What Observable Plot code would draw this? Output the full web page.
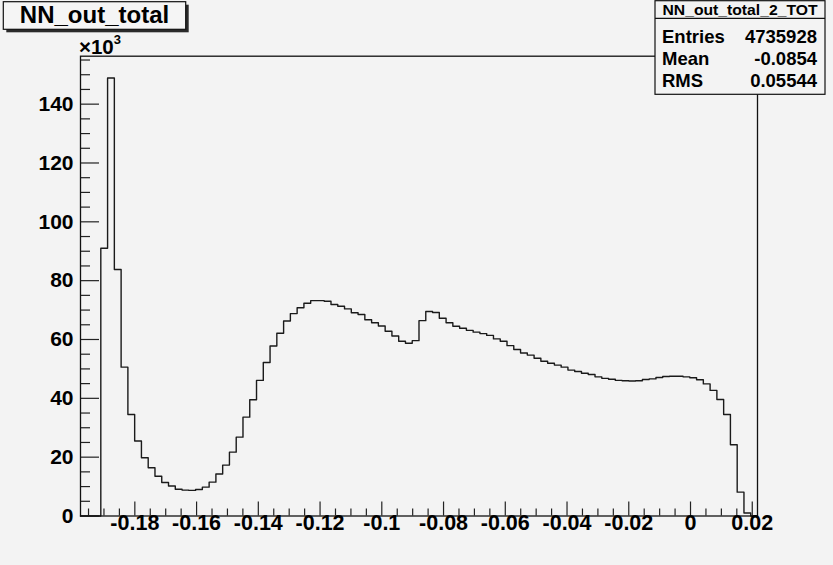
<!DOCTYPE html>
<html>
<head>
<meta charset="utf-8">
<script src="https://cdn.jsdelivr.net/npm/d3@7"></script>
<script src="https://cdn.jsdelivr.net/npm/@observablehq/plot@0.6"></script>
<style>
  html, body { margin: 0; padding: 0; background: #f3f3f3; }
  svg text { font-family: "Liberation Sans", Arial, Helvetica, sans-serif; }
</style>
</head>
<body>
<div id="chart"></div>
<script>
// ---- histogram definition ----
const histName = "NN_out_total";
const statsName = "NN_out_total_2_TOT";
const xMin = -0.1976;
const xMax = 0.0217;
const nBins = 100;
// bin contents (x10^3), one per bin
const counts = [
  0, 0, 0,
  91.0, 148.9, 83.8, 50.6, 34.5, 25.5, 19.8, 16.4, 13.5, 11.4, 10.2, 9.1,
  8.8, 8.7, 9.0, 9.8, 11.5, 14.3, 17.3, 21.7, 26.8, 33.6, 39.5,
  46.1, 52.2, 57.8, 62.1, 66.3, 68.8, 70.8, 72.3, 73.2, 73.2, 73.0, 71.9,
  71.3, 70.4, 69.1, 68.5, 66.7, 65.7, 64.6, 62.8, 61.2, 59.4, 58.7, 59.6,
  66.4, 69.5, 69.2, 67.2, 65.7, 64.5, 63.8, 63.1, 62.5, 62.0, 61.4, 60.2,
  59.4, 57.9, 56.6, 55.4, 54.7, 53.6, 52.6, 51.9, 51.3, 50.6, 49.6, 49.1,
  48.5, 48.1, 47.3, 46.8, 46.5, 46.1, 46.0, 45.9, 46.0, 46.4, 46.6, 47.1,
  47.4, 47.5, 47.5, 47.3, 47.0, 46.3, 44.9, 42.7, 39.6, 34.5, 24.2, 8.1, 1.0,
  0
];
const yMax = 156.3;
const statsLabels = ["Entries", "Mean", "RMS"];
const statsValues = ["4735928", "-0.0854", "0.05544"];
const xMajor = [-0.18, -0.16, -0.14, -0.12, -0.10, -0.08, -0.06, -0.04, -0.02, 0, 0.02];
const xTickLabels = ["-0.18", "-0.16", "-0.14", "-0.12", "-0.1", "-0.08", "-0.06", "-0.04", "-0.02", "0", "0.02"];
const yMajor = [0, 20, 40, 60, 80, 100, 120, 140];
const yTickLabels = ["0", "20", "40", "60", "80", "100", "120", "140"];

// ---- derived ----
const binW = (xMax - xMin) / nBins;
const pts = counts.map((c, i) => ({x: xMin + i * binW, y: c}));
pts.push({x: xMin + nBins * binW, y: counts[nBins - 1]});
const xMinor = d3.range(-39, 5).filter(k => k % 4 !== 0).map(k => k * 0.005);
const yMinor = d3.range(0, 32).filter(k => k % 4 !== 0).map(k => k * 5);
const xLab = xMajor.map((v, i) => ({v, t: xTickLabels[i]}));
const yLab = yMajor.map((v, i) => ({v, t: yTickLabels[i]}));

const W = 833, H = 565;
const mL = 80, mR = 76, mT = 55.7, mB = 49.5;
const frameW = W - mL - mR, frameH = H - mT - mB;
const font = "Liberation Sans, Arial, Helvetica, sans-serif";

const plot = Plot.plot({
  width: W, height: H,
  marginLeft: mL, marginRight: mR, marginTop: mT, marginBottom: mB,
  style: {background: "#f3f3f3", fontFamily: font, overflow: "visible"},
  x: {domain: [xMin, xMax], axis: null},
  y: {domain: [0, yMax], axis: null},
  marks: [
    Plot.line(pts, {x: "x", y: "y", curve: "step-after", stroke: "#1a1a1a", strokeWidth: 1.4}),
    Plot.tickX(xMajor, {x: d => d, insetTop: frameH - 14, stroke: "#222", strokeWidth: 1.2}),
    Plot.tickX(xMinor, {x: d => d, insetTop: frameH - 7, stroke: "#222", strokeWidth: 1.2}),
    Plot.tickY(yMajor, {y: d => d, insetRight: frameW - 19, stroke: "#222", strokeWidth: 1.2}),
    Plot.tickY(yMinor, {y: d => d, insetRight: frameW - 10, stroke: "#222", strokeWidth: 1.2}),
    Plot.frame({stroke: "#111", strokeWidth: 1.3}),
    Plot.text(xLab, {x: "v", text: "t", frameAnchor: "bottom", dy: 14, fontSize: 21.5, fontWeight: "bold", fill: "#000"}),
    Plot.text(yLab, {y: "v", text: "t", frameAnchor: "left", textAnchor: "end", dx: -7, fontSize: 21, fontWeight: "bold", fill: "#000"})
  ]
});
document.getElementById("chart").appendChild(plot);

const svg = d3.select(plot);
// x10^3 exponent label
const ex = svg.append("text").attr("x", 79).attr("y", 53.5).attr("text-anchor", "start")
  .attr("font-size", 20.5).attr("font-weight", "bold").attr("fill", "#000");
ex.append("tspan").text("\u00d710");
ex.append("tspan").attr("dy", -9.5).attr("font-size", 13).text("3");

// title box
const tb = svg.append("g");
tb.append("rect").attr("x", 6.3).attr("y", 4.7).attr("width", 182.4).attr("height", 27.6).attr("fill", "#2a2a2a");
tb.append("rect").attr("x", 3.3).attr("y", 1.7).attr("width", 182.4).attr("height", 27.6)
  .attr("fill", "#f5f5f5").attr("stroke", "#111").attr("stroke-width", 1.2);
tb.append("text").attr("x", 94.5).attr("y", 23.3).attr("text-anchor", "middle")
  .attr("font-size", 24).attr("font-weight", "bold").attr("fill", "#000").text(histName);

// stats box
const sb = svg.append("g");
sb.append("rect").attr("x", 655).attr("y", 0.7).attr("width", 170).attr("height", 93.6)
  .attr("fill", "#f3f3f3").attr("stroke", "#111").attr("stroke-width", 1.2);
sb.append("line").attr("x1", 655).attr("x2", 825).attr("y1", 18.3).attr("y2", 18.3)
  .attr("stroke", "#111").attr("stroke-width", 1.2);
sb.append("text").attr("x", 740).attr("y", 15.3).attr("text-anchor", "middle")
  .attr("font-size", 14.5).attr("font-weight", "bold").attr("fill", "#000")
  .attr("textLength", 155).attr("lengthAdjust", "spacingAndGlyphs").text(statsName);
const rowY = [42.7, 65, 87.3];
statsLabels.forEach((lab, i) => {
  sb.append("text").attr("x", 662).attr("y", rowY[i]).attr("text-anchor", "start")
    .attr("font-size", 18.5).attr("font-weight", "bold").attr("fill", "#000").text(lab);
  sb.append("text").attr("x", 817).attr("y", rowY[i]).attr("text-anchor", "end")
    .attr("font-size", 18.5).attr("font-weight", "bold").attr("fill", "#000").text(statsValues[i]);
});
</script>
</body>
</html>
